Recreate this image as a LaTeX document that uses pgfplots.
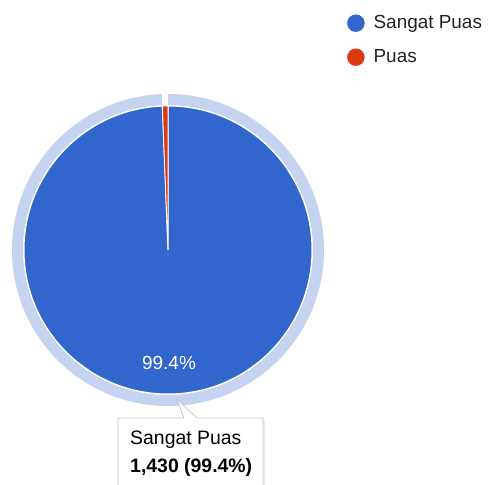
\documentclass[border=0pt]{standalone}
\usepackage{pgfplots}
\usepackage{pgfplotstable}
\pgfplotsset{compat=1.18}
\usepackage{fontspec}
\setmainfont{Liberation Sans}
\definecolor{gblue}{HTML}{3366CC}
\definecolor{gred}{HTML}{DC3912}
\definecolor{gring}{HTML}{C5D3F0}
\definecolor{gtext}{HTML}{222222}
\pgfplotstableread{
label value
SangatPuas 1430
Puas 9
}\piedata
\begin{document}
\begin{tikzpicture}
\pgfplotstablegetelem{0}{value}\of\piedata \let\va\pgfplotsretval
\pgfplotstablegetelem{1}{value}\of\piedata \let\vb\pgfplotsretval
\pgfmathsetmacro{\tot}{\va+\vb}
\pgfmathsetmacro{\fa}{\va/\tot}
\pgfmathsetmacro{\fb}{\vb/\tot}
\pgfmathsetmacro{\aA}{90-360*\fa}
\pgfmathsetmacro{\aB}{\aA-360*\fb}
\begin{axis}[
  scale only axis, width=491bp, height=485bp,
  xmin=0, xmax=491, ymin=0, ymax=485,
  hide axis, clip=false,
  legend style={at={(axis cs:347,472)}, anchor=north west, draw=none, fill=none,
    font=\fontsize{19}{22}\selectfont\color{gtext}, row sep=14bp,
    inner sep=0pt, nodes={inner sep=1bp, text height=14bp, text depth=4bp},
    /tikz/every odd column/.append style={column sep=8bp}},
  legend cell align=left,
]
\addlegendimage{legend image code/.code={\fill[gblue] (8.5bp,0bp) circle[radius=8.5bp];}}
\addlegendentry{Sangat Puas}
\addlegendimage{legend image code/.code={\fill[gred] (8.5bp,0bp) circle[radius=8.5bp];}}
\addlegendentry{Puas}
% hover ring
\fill[gring] (axis cs:{168+156*cos(90)},{235+156*sin(90)})
   arc[start angle=90, end angle=\aA, radius=156bp]
   -- (axis cs:{168+145*cos(\aA)},{235+145*sin(\aA)})
   arc[start angle=\aA, end angle=90, radius=145bp] -- cycle;
% slices
\filldraw[fill=gblue, draw=white, line width=1bp] (axis cs:168,235) -- (axis cs:{168+144*cos(90)},{235+144*sin(90)})
   arc[start angle=90, end angle=\aA, radius=144bp] -- cycle;
\filldraw[fill=gred, draw=white, line width=0.8bp] (axis cs:168,235) -- (axis cs:{168+144*cos(\aA)},{235+144*sin(\aA)})
   arc[start angle=\aA, end angle=\aB, radius=144bp] -- cycle;
% slice label
\node[anchor=base, text=white, font=\fontsize{19}{22}\selectfont, inner sep=0pt] at (axis cs:169,115) {99.4\%};
% tooltip
\fill[black, opacity=0.08] (axis cs:120,0) -- (axis cs:120,65) -- (axis cs:265,65) -- (axis cs:265,0) -- cycle;
\filldraw[fill=white, draw=gray!45, line width=0.8bp]
  (axis cs:118,0) -- (axis cs:118,67) -- (axis cs:184,67) -- (axis cs:177,86)
  -- (axis cs:197,67) -- (axis cs:263,67) -- (axis cs:263,0);
\node[anchor=base west, font=\fontsize{19.5}{22}\selectfont, text=black, inner sep=0pt] at (axis cs:130,40) {Sangat Puas};
\node[anchor=base west, font=\fontsize{19.5}{22}\selectfont\bfseries, text=black, inner sep=0pt] at (axis cs:130,13) {1,430 (99.4\%)};
\end{axis}
\pgfresetboundingbox
\path (0,0) rectangle (491bp,485bp);
\end{tikzpicture}
\end{document}
